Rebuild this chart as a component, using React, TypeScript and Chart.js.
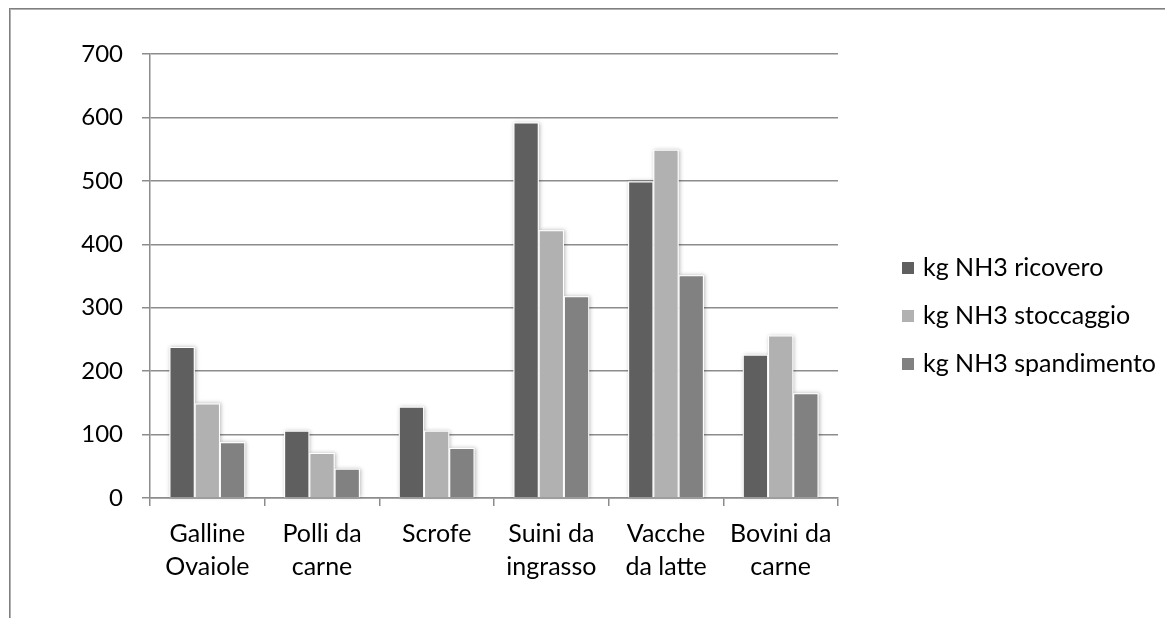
import { useEffect, useRef } from "react";
import { Chart, registerables } from "chart.js";

Chart.register(...registerables);

// Livestock categories (multi-line axis labels)
const categories: string[][] = [
  ["Galline", "Ovaiole"],
  ["Polli da", "carne"],
  ["Scrofe"],
  ["Suini da", "ingrasso"],
  ["Vacche", "da latte"],
  ["Bovini da", "carne"],
];

// Ammonia emissions per phase (kg NH3)
const ricovero = [238, 106, 144, 592, 499, 226];
const stoccaggio = [149, 71, 106, 422, 549, 256];
const spandimento = [88, 46, 79, 318, 351, 165];

const seriesNames = ["kg NH3 ricovero", "kg NH3 stoccaggio", "kg NH3 spandimento"];
const seriesColors = ["#5f5f5f", "#b1b1b1", "#818181"];

const yTicks = [0, 100, 200, 300, 400, 500, 600, 700];

const FONT_FAMILY = "Lato, 'Noto Sans', sans-serif";
const LABEL_SIZE = 25;
const LINE_COLOR = "#8c8c8c";

// Soft drop shadow behind every bar
const barShadow = {
  id: "barShadow",
  beforeDatasetsDraw(chart: any) {
    const ctx = chart.ctx as CanvasRenderingContext2D;
    ctx.save();
    ctx.shadowColor = "rgba(0,0,0,0.28)";
    ctx.shadowBlur = 4;
    ctx.shadowOffsetX = 1;
    ctx.shadowOffsetY = 0;
    ctx.fillStyle = "#ffffff";
    chart.data.datasets.forEach((_ds: any, i: number) => {
      const meta = chart.getDatasetMeta(i);
      meta.data.forEach((bar: any) => {
        const { x, y, base, width } = bar.getProps(["x", "y", "base", "width"], true);
        ctx.fillRect(x - width / 2, y, width, base - y);
      });
    });
    ctx.restore();
  },
};

// Legend drawn on the right-hand side, one item per row
const sideLegend = {
  id: "sideLegend",
  afterDraw(chart: any, _args: any, opts: any) {
    const ctx = chart.ctx as CanvasRenderingContext2D;
    ctx.save();
    ctx.font = `${LABEL_SIZE}px ${FONT_FAMILY}`;
    ctx.textBaseline = "middle";
    ctx.textAlign = "left";
    chart.data.datasets.forEach((ds: any, i: number) => {
      const y = opts.top + i * opts.spacing;
      ctx.fillStyle = ds.backgroundColor;
      ctx.fillRect(opts.left, y - opts.box / 2, opts.box, opts.box);
      ctx.fillStyle = "#000";
      ctx.fillText(ds.label, opts.left + opts.box + opts.gap, y);
    });
    ctx.restore();
  },
};

export default function App() {
  const canvasRef = useRef<HTMLCanvasElement | null>(null);

  useEffect(() => {
    if (!canvasRef.current) return;
    const values = [ricovero, stoccaggio, spandimento];
    const chart = new Chart(canvasRef.current, {
      type: "bar",
      data: {
        labels: categories,
        datasets: seriesNames.map((name, i) => ({
          label: name,
          data: values[i],
          backgroundColor: seriesColors[i],
          borderColor: "#ffffff",
          borderWidth: 1,
          categoryPercentage: 0.66,
          barPercentage: 1,
        })),
      },
      options: {
        animation: false,
        responsive: false,
        events: [],
        layout: { padding: { top: 46, right: 335, left: 0, bottom: 0 } },
        plugins: {
          legend: { display: false },
          tooltip: { enabled: false },
          sideLegend: { left: 894, top: 260, spacing: 48, box: 12, gap: 9 },
        } as any,
        scales: {
          x: {
            afterFit(scale: any) {
              scale.height = 120;
            },
            grid: {
              display: true,
              drawOnChartArea: false,
              drawTicks: true,
              tickLength: 8,
              offset: true,
              color: LINE_COLOR,
              lineWidth: 1.5,
            },
            border: { display: true, color: LINE_COLOR, width: 1.5 },
            ticks: {
              color: "#000",
              padding: 11,
              maxRotation: 0,
              autoSkip: false,
              font: { family: FONT_FAMILY, size: LABEL_SIZE, lineHeight: 1.32 },
            },
          },
          y: {
            min: 0,
            max: 700,
            afterFit(scale: any) {
              scale.width = 142;
            },
            afterBuildTicks(scale: any) {
              scale.ticks = yTicks.map((v) => ({ value: v }));
            },
            grid: {
              color: LINE_COLOR,
              lineWidth: 1.5,
              tickLength: 8,
              drawTicks: true,
            },
            border: { display: true, color: LINE_COLOR, width: 1.5 },
            ticks: {
              color: "#000",
              padding: 19,
              font: { family: FONT_FAMILY, size: 24 },
            },
          },
        },
      },
      plugins: [barShadow, sideLegend],
    });
    return () => chart.destroy();
  }, []);

  return (
    <div style={{ position: "relative", width: 1165, height: 610, overflow: "hidden", background: "#fff" }}>
      <div
        style={{
          position: "absolute",
          left: 1,
          top: 0,
          right: -10,
          bottom: -10,
          borderLeft: "1px solid #808080",
          borderTop: "1px solid #808080",
          boxShadow: "inset 1px 1px 0 #b0b0b0",
        }}
      />
      <canvas
        ref={canvasRef}
        width={1165}
        height={610}
        style={{ position: "absolute", left: 0, top: 0, width: 1165, height: 610 }}
      />
    </div>
  );
}
